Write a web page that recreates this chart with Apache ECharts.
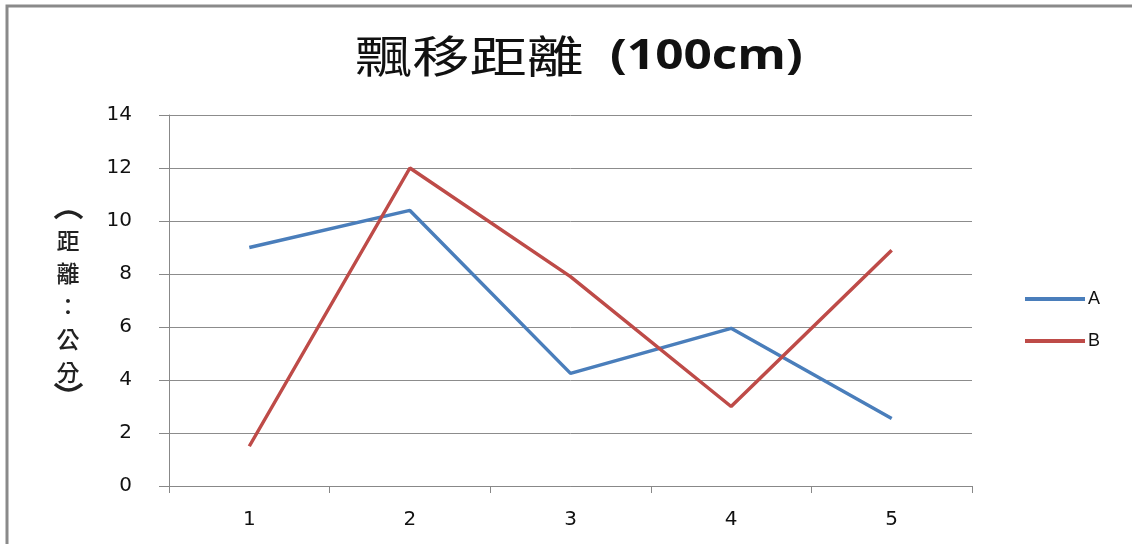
<!DOCTYPE html>
<html>
<head>
<meta charset="utf-8">
<script src="https://cdn.jsdelivr.net/npm/echarts@6/dist/echarts.min.js"></script>
<style>
	html, body { margin: 0; padding: 0; background: #fff; }
	#chart { width: 1132px; height: 544px; }
</style>
</head>
<body>
<div id="chart"></div>
<script>
	// 資料
	var categories = ['1', '2', '3', '4', '5'];
	var seriesA = [9.0, 10.4, 4.25, 5.95, 2.55];
	var seriesB = [1.5, 12.0, 7.9, 3.0, 8.9];
	var yTicks = { min: 0, max: 14, interval: 2 };

	var chart = echarts.init(document.getElementById('chart'), null, {
		width: 1132,
		height: 544
	});

	var cjk = '"Noto Sans CJK TC", "Noto Sans", sans-serif';

	var option = {
		backgroundColor: '#fff',
		animation: false,
		graphic: [
			{ // 外框 (左、上)
				type: 'polyline',
				shape: { points: [[7, 560], [7, 6], [1140, 6]] },
				style: { stroke: '#8a8a8a', lineWidth: 3, fill: null }
			},
			{ // 標題 (字型在原圖較寬, 用 scaleX 拉寬)
				type: 'text',
				x: 355,
				y: 56,
				scaleX: 1.3,
				style: { text: '飄移距離', font: 'normal 44px ' + cjk, fill: '#111', align: 'left', verticalAlign: 'middle' }
			},
			{
				type: 'text',
				x: 610,
				y: 57,
				scaleX: 1.18,
				style: { text: '(100cm)', font: 'bold 42px "Open Sans", "Noto Sans", sans-serif', fill: '#111', align: 'left', verticalAlign: 'middle' }
			},
			{ // 上括號
				type: 'bezierCurve',
				shape: { x1: 55, y1: 218, x2: 82, y2: 218, cpx1: 68.5, cpy1: 206 },
				style: { stroke: '#222', lineWidth: 3.5, fill: null }
			},
			{ // 直排 y 軸名稱
				type: 'text',
				x: 68,
				y: 224,
				style: {
					text: '距\n離\n：\n公\n分',
					font: '500 23px ' + cjk,
					fill: '#222',
					lineHeight: 33,
					align: 'center',
					verticalAlign: 'top'
				}
			},
			{ // 下括號
				type: 'bezierCurve',
				shape: { x1: 55, y1: 384, x2: 82, y2: 384, cpx1: 68.5, cpy1: 396 },
				style: { stroke: '#222', lineWidth: 3.5, fill: null }
			}
		],
		legend: {
			orient: 'vertical',
			left: 1020,
			top: 285,
			itemWidth: 60,
			itemHeight: 4,
			itemGap: 24,
			icon: 'rect',
			textStyle: { fontFamily: 'Liberation Sans', fontSize: 18, color: '#111', padding: [0, 0, 0, -2] },
			data: ['A', 'B']
		},
		grid: {
			left: 169,
			right: 160,
			top: 115,
			bottom: 58
		},
		xAxis: {
			type: 'category',
			boundaryGap: true,
			data: categories,
			axisLine: { lineStyle: { color: '#888', width: 1 } },
			axisTick: { show: true, length: 7, lineStyle: { color: '#888' } },
			axisLabel: {
				margin: 24,
				fontFamily: 'DejaVu Sans',
				fontSize: 20,
				color: '#111'
			}
		},
		yAxis: {
			type: 'value',
			min: yTicks.min,
			max: yTicks.max,
			interval: yTicks.interval,
			axisLine: { show: true, lineStyle: { color: '#888', width: 1 } },
			axisTick: { show: true, length: 10, lineStyle: { color: '#888' } },
			axisLabel: {
				margin: 37,
				fontFamily: 'DejaVu Sans',
				fontSize: 20,
				color: '#111'
			},
			splitLine: { show: true, lineStyle: { color: '#8c8c8c', width: 1 } }
		},
		series: [
			{
				name: 'A',
				type: 'line',
				data: seriesA,
				symbol: 'none',
				color: '#4a7ebb',
				lineStyle: { color: '#4a7ebb', width: 3.5 }
			},
			{
				name: 'B',
				type: 'line',
				data: seriesB,
				symbol: 'none',
				color: '#be4b48',
				lineStyle: { color: '#be4b48', width: 3.5 }
			}
		]
	};

	chart.setOption(option);
</script>
</body>
</html>
